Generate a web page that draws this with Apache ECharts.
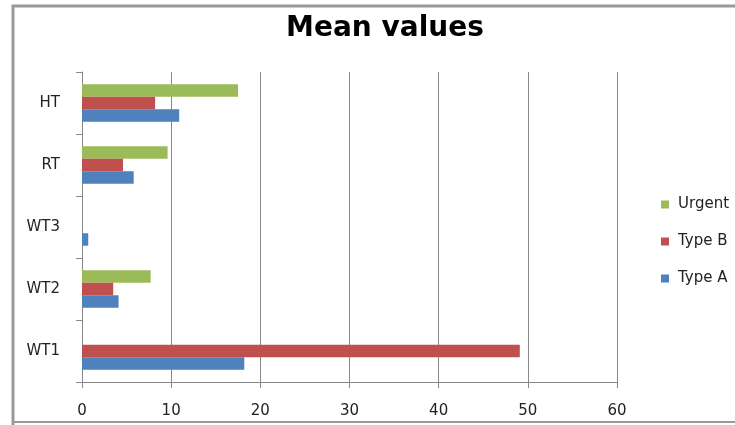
<!DOCTYPE html>
<html>
<head>
<meta charset="utf-8">
<script src="https://cdn.jsdelivr.net/npm/echarts@6/dist/echarts.min.js"></script>
<style>
  html, body { margin: 0; padding: 0; background: #fff; }
  #chart { width: 735px; height: 425px; }
</style>
</head>
<body>
<div id="chart"></div>
<script>
  // categories bottom to top, like the original
  var categories = ['WT1', 'WT2', 'WT3', 'RT', 'HT'];
  var typeA = [18.2, 4.1, 0.7, 5.8, 10.9];
  var typeB = [49.1, 3.5, 0, 4.6, 8.2];
  var urgent = [0, 7.7, 0, 9.6, 17.5];
  var xTicks = [0, 10, 20, 30, 40, 50, 60];

  var fontName = 'DejaVu Sans';
  var chart = echarts.init(document.getElementById('chart'));

  function barSeries(name, data, color) {
    return {
      name: name,
      type: 'bar',
      data: data,
      barWidth: 12.5,
      barGap: '0%',
      itemStyle: { color: color },
      emphasis: { disabled: true }
    };
  }

  var option = {
    animation: false,
    textStyle: { fontFamily: fontName },
    title: {
      text: 'Mean values',
      left: 380,
      textAlign: 'center',
      top: 10,
      textStyle: { fontSize: 28, fontWeight: 'bold', color: '#000', fontFamily: fontName }
    },
    legend: {
      orient: 'vertical',
      left: 656,
      top: 192,
      itemWidth: 8,
      itemHeight: 8,
      itemGap: 22,
      icon: 'rect',
      data: ['Urgent', 'Type B', 'Type A'],
      textStyle: { fontSize: 15, color: '#222', padding: [0, 0, 0, 4] }
    },
    grid: {
      left: 82,
      right: 735 - 617,
      top: 72,
      bottom: 425 - 382,
      containLabel: false
    },
    xAxis: {
      type: 'value',
      min: xTicks[0],
      max: xTicks[xTicks.length - 1],
      interval: 10,
      axisLine: { show: true, lineStyle: { color: '#888', width: 1 } },
      axisTick: { show: true, length: 6, inside: false, lineStyle: { color: '#888' } },
      axisLabel: { fontSize: 15, color: '#222', margin: 22 },
      splitLine: { show: true, lineStyle: { color: '#888', width: 1 } }
    },
    yAxis: {
      type: 'category',
      data: categories,
      axisLine: { show: true, lineStyle: { color: '#888', width: 1 } },
      axisTick: { show: true, length: 6, alignWithLabel: false, lineStyle: { color: '#888' } },
      axisLabel: { fontSize: 15, color: '#222', margin: 22 },
      splitLine: { show: false }
    },
    graphic: [
      {
        type: 'polyline',
        shape: { points: [[13, 425], [13, 6], [735, 6]] },
        style: { stroke: '#999', lineWidth: 3, fill: null }
      },
      {
        type: 'line',
        shape: { x1: 13, y1: 422, x2: 735, y2: 422 },
        style: { stroke: '#999', lineWidth: 2 }
      }
    ],
    // first series is drawn at the top of each band, so Urgent goes first
    series: [
      barSeries('Urgent', urgent, '#9bbb59'),
      barSeries('Type B', typeB, '#c0504d'),
      barSeries('Type A', typeA, '#4f81bd')
    ]
  };

  chart.setOption(option);
</script>
</body>
</html>
